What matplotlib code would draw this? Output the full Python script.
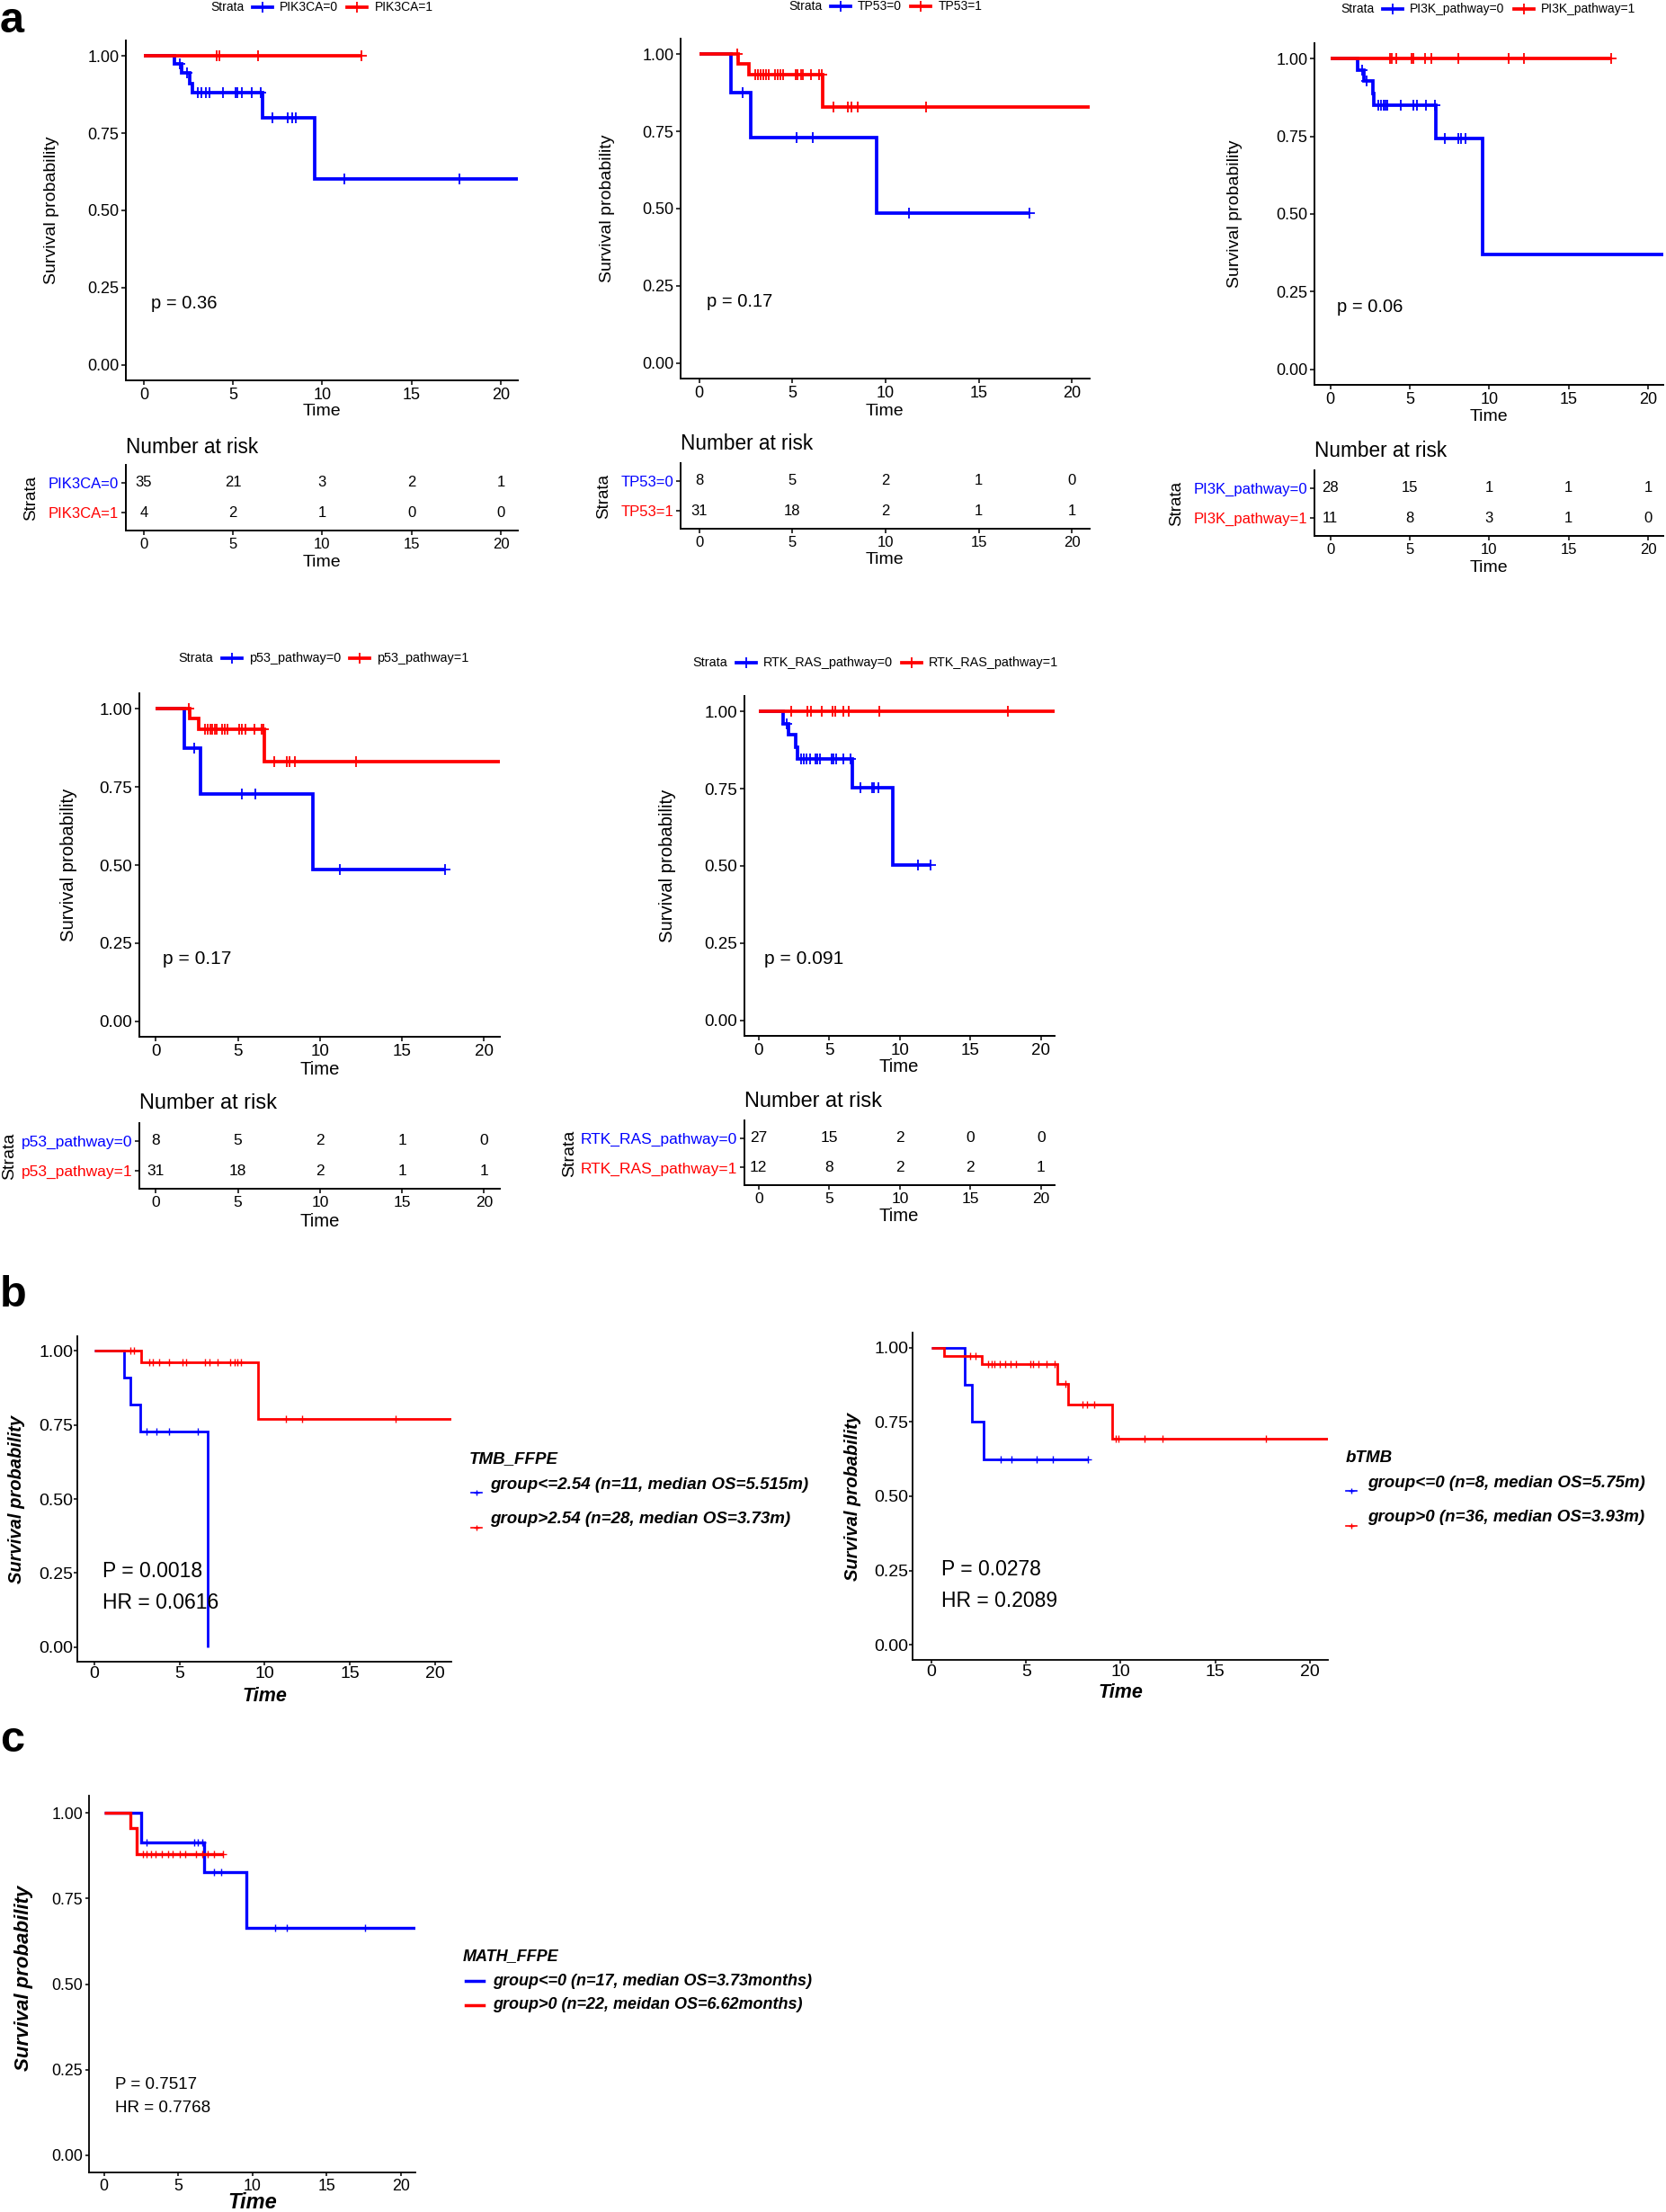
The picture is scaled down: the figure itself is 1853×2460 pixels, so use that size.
import numpy as np
import matplotlib
matplotlib.use("Agg")
import matplotlib.pyplot as plt
from matplotlib.lines import Line2D

plt.rcParams['font.family'] = ['Liberation Sans', 'DejaVu Sans']

W, H, DPI = 1853, 2460, 100
BLUE, RED = '#0000FF', '#FF0000'

# ====================== DATA ======================
x_ticks = [0, 5, 10, 15, 20]
y_ticks = [0.0, 0.25, 0.5, 0.75, 1.0]
y_ticklabels = ['0.00', '0.25', '0.50', '0.75', '1.00']
risk_times = [0, 5, 10, 15, 20]

# --- a1: PIK3CA ---
pik3ca_labels = ['PIK3CA=0', 'PIK3CA=1']
pik3ca_p = 'p = 0.36'
pik3ca0_event_t = [1.70, 2.10, 2.60, 2.75, 6.65, 9.56]
pik3ca0_event_s = [0.974, 0.945, 0.911, 0.881, 0.801, 0.601]
pik3ca0_cens = [2.0, 2.4, 3.04, 3.24, 3.47, 3.66, 4.45, 5.16, 5.26, 5.51, 6.03, 6.58,
                7.23, 8.05, 8.3, 8.54, 11.23, 17.69]
pik3ca0_end = 21.5
pik3ca1_event_t = []
pik3ca1_event_s = []
pik3ca1_cens = [4.1, 4.22, 6.38, 12.2]
pik3ca1_end = 12.2
pik3ca_risk0 = [35, 21, 3, 2, 1]
pik3ca_risk1 = [4, 2, 1, 0, 0]

# --- a2: TP53 ---
tp53_labels = ['TP53=0', 'TP53=1']
tp53_p = 'p = 0.17'
tp530_event_t = [1.72, 2.76, 9.54]
tp530_event_s = [0.875, 0.729, 0.486]
tp530_cens = [2.34, 5.24, 6.08, 11.24, 17.71]
tp530_end = 17.71
tp531_event_t = [2.11, 2.69, 6.63]
tp531_event_s = [0.968, 0.935, 0.830]
tp531_cens = [2.02, 3.0, 3.14, 3.3, 3.45, 3.58, 3.71, 4.06, 4.19, 4.34, 4.48, 5.16, 5.26,
              5.45, 5.54, 6.02, 6.44, 6.6, 7.2, 8.0, 8.15, 8.5, 12.19]
tp531_end = 21.5
tp53_risk0 = [8, 5, 2, 1, 0]
tp53_risk1 = [31, 18, 2, 1, 1]

# --- a3: PI3K_pathway ---
pi3k_labels = ['PI3K_pathway=0', 'PI3K_pathway=1']
pi3k_p = 'p = 0.06'
pi3k0_event_t = [1.69, 2.09, 2.68, 2.75, 6.65, 9.57]
pi3k0_event_s = [0.963, 0.929, 0.888, 0.849, 0.742, 0.371]
pi3k0_cens = [1.98, 2.29, 3.01, 3.17, 3.34, 3.45, 3.61, 4.44, 5.21, 5.43, 6.03, 6.6,
              7.19, 8.03, 8.25, 8.51]
pi3k0_end = 21.5
pi3k1_event_t = []
pi3k1_event_s = []
pi3k1_cens = [3.74, 3.89, 4.16, 5.1, 5.21, 5.98, 6.38, 8.07, 11.2, 12.19, 17.69]
pi3k1_end = 17.69
pi3k_risk0 = [28, 15, 1, 1, 1]
pi3k_risk1 = [11, 8, 3, 1, 0]

# --- a4: p53_pathway ---
p53p_labels = ['p53_pathway=0', 'p53_pathway=1']
p53p_p = 'p = 0.17'
p53p0_event_t = [1.72, 2.72, 9.57]
p53p0_event_s = [0.875, 0.728, 0.486]
p53p0_cens = [2.35, 5.24, 6.07, 11.2, 17.63]
p53p0_end = 17.63
p53p1_event_t = [2.08, 2.62, 6.62]
p53p1_event_s = [0.968, 0.935, 0.830]
p53p1_cens = [1.99, 2.98, 3.14, 3.3, 3.45, 3.58, 3.71, 4.06, 4.19, 4.34, 5.1, 5.26, 5.45,
              6.02, 6.44, 6.58, 7.2, 8.0, 8.15, 8.5, 12.19]
p53p1_end = 21.5
p53p_risk0 = [8, 5, 2, 1, 0]
p53p_risk1 = [31, 18, 2, 1, 1]

# --- a5: RTK_RAS_pathway ---
rtk_labels = ['RTK_RAS_pathway=0', 'RTK_RAS_pathway=1']
rtk_p = 'p = 0.091'
rtk0_event_t = [1.72, 2.09, 2.65, 2.75, 6.65, 9.51]
rtk0_event_s = [0.961, 0.924, 0.885, 0.847, 0.753, 0.502]
rtk0_cens = [1.97, 3.0, 3.18, 3.37, 3.67, 4.05, 4.17, 4.34, 5.15, 5.27, 5.51, 5.97, 6.53,
             7.21, 8.03, 8.16, 8.47, 11.26, 12.16]
rtk0_end = 12.16
rtk1_event_t = []
rtk1_event_s = []
rtk1_cens = [2.33, 3.45, 3.69, 4.47, 5.24, 5.44, 6.0, 6.36, 8.54, 17.65]
rtk1_end = 21.5
rtk_risk0 = [27, 15, 2, 0, 0]
rtk_risk1 = [12, 8, 2, 2, 1]

# --- b1: TMB_FFPE ---
tmb_title = 'TMB_FFPE'
tmb_labels = ['group<=2.54 (n=11, median OS=5.515m)', 'group>2.54 (n=28, median OS=3.73m)']
tmb_stats = ['P = 0.0018', 'HR = 0.0616']
tmb0_event_t = [1.73, 2.10, 2.67, 6.66]
tmb0_event_s = [0.909, 0.818, 0.727, 0.0]
tmb0_cens = [3.05, 3.67, 4.4, 6.1]
tmb0_end = 6.66
tmb1_event_t = [2.73, 9.60]
tmb1_event_s = [0.962, 0.770]
tmb1_cens = [2.1, 2.35, 3.2, 3.42, 3.83, 4.4, 5.18, 5.4, 6.5, 6.75, 7.22, 8.0, 8.23, 8.38,
             8.6, 11.27, 12.2, 17.68]
tmb1_end = 21.5

# --- b2: bTMB ---
btmb_title = 'bTMB'
btmb_labels = ['group<=0 (n=8, median OS=5.75m)', 'group>0 (n=36, median OS=3.93m)']
btmb_stats = ['P = 0.0278', 'HR = 0.2089']
btmb0_event_t = [1.75, 2.12, 2.74]
btmb0_event_s = [0.875, 0.750, 0.625]
btmb0_cens = [3.67, 4.24, 5.56, 6.41, 8.25]
btmb0_end = 8.25
btmb1_event_t = [0.65, 2.66, 6.64, 7.20, 9.55]
btmb1_event_s = [0.972, 0.943, 0.879, 0.807, 0.692]
btmb1_cens = [2.06, 2.34, 2.97, 3.16, 3.33, 3.62, 3.9, 4.18, 4.46, 5.23, 5.37, 5.65, 6.07,
              6.5, 7.06, 8.0, 8.2, 8.6, 9.75, 9.9, 11.24, 12.2, 17.7]
btmb1_end = 21.5

# --- c: MATH_FFPE ---
math_title = 'MATH_FFPE'
math_labels = ['group<=0 (n=17, median OS=3.73months)', 'group>0 (n=22, meidan OS=6.62months)']
math_stats = ['P = 0.7517', 'HR = 0.7768']
math0_event_t = [2.48, 6.76, 9.60]
math0_event_s = [0.914, 0.827, 0.663]
math0_cens = [2.9, 6.1, 6.35, 6.6, 7.4, 7.9, 11.5, 12.3, 17.6]
math0_end = 21.5
math1_event_t = [1.80, 2.20]
math1_event_s = [0.955, 0.880]
math1_cens = [2.6, 2.9, 3.2, 3.5, 3.9, 4.3, 4.6, 5.1, 5.5, 6.2, 6.6, 7.0, 7.4, 8.0]
math1_end = 8.0

# ====================== LAYOUT HELPERS ======================
fig = plt.figure(figsize=(W / DPI, H / DPI), dpi=DPI)
renderer = fig.canvas.get_renderer()


def fx(x):
    return x / W


def fy(y):
    return 1 - y / H


def add_ax(l, t, r, b):
    return fig.add_axes([l / W, 1 - b / H, (r - l) / W, (b - t) / H])


def ftext(x, y, s, **kw):
    return fig.text(fx(x), fy(y), s, **kw)


def km_draw(ax, ev_t, ev_s, cens, end, color, lw, ms, mew):
    ev_t = np.asarray(ev_t, float)
    ev_s = np.asarray(ev_s, float)
    last = ev_s[-1] if len(ev_s) else 1.0
    t = np.r_[0.0, ev_t, end]
    s = np.r_[1.0, ev_s, last]
    ax.step(t, s, where='post', color=color, lw=lw, solid_joinstyle='miter',
            solid_capstyle='butt', zorder=3)
    lev = np.r_[1.0, ev_s][np.searchsorted(ev_t, cens, side='right')]
    ax.plot(cens, lev, ls='none', marker='+', color=color, ms=ms, mew=mew, zorder=4)


def setup_km(ax, tick_fs, spine_lw=1.4, pad=2, tlen=3.5):
    ax.set_xlim(-1, 20.96)
    ax.set_ylim(-0.05, 1.05)
    ax.set_xticks(x_ticks)
    ax.set_yticks(y_ticks)
    ax.set_yticklabels(y_ticklabels)
    for sp in ['top', 'right']:
        ax.spines[sp].set_visible(False)
    for sp in ['left', 'bottom']:
        ax.spines[sp].set_linewidth(spine_lw)
    ax.tick_params(length=tlen, width=1.1, labelsize=tick_fs, pad=pad, colors='black')
    ax.set_facecolor('none')


def hlegend(x0, y, labels, fs, lw, ms, mew):
    """ggplot-like horizontal legend: 'Strata' + keys"""
    t = ftext(x0, y, 'Strata', fontsize=fs, va='center', ha='left')
    bb = t.get_window_extent(renderer)
    x = bb.x1 + 10
    for lab, col in zip(labels, [BLUE, RED]):
        fig.add_artist(Line2D([fx(x), fx(x + 22)], [fy(y), fy(y)], color=col, lw=lw))
        fig.add_artist(Line2D([fx(x + 11)], [fy(y)], color=col, marker='+', ms=ms, mew=mew))
        x += 30
        tt = ftext(x, y, lab, fontsize=fs, va='center', ha='left')
        x = tt.get_window_extent(renderer).x1 + 10


A_LW = 2.7


def a_panel(box, rbox, labels, pval, c0, c1, r0, r1, pos, s=1.0):
    (ylab_xy, time_xy, leg_xy, rt_title_xy, rt_strata_xy, rt_time_xy) = pos
    ax = add_ax(*box)
    setup_km(ax, 13 * s)
    km_draw(ax, *c0, BLUE, A_LW, 8, 1.3)
    km_draw(ax, *c1, RED, A_LW, 8, 1.3)
    ax.text(0.42, 0.2, pval, fontsize=14.5 * s, ha='left', va='center')
    ftext(*ylab_xy, 'Survival probability', fontsize=14 * s, rotation=90,
          ha='center', va='center')
    ftext(*time_xy, 'Time', fontsize=14 * s, ha='center', va='center')
    hlegend(leg_xy[0], leg_xy[1], labels, 10 * s, A_LW, 8, 1.3)

    # risk table
    rt = add_ax(*rbox)
    rt.set_xlim(-1, 20.96)
    rt.set_ylim(0.4, 2.6)
    rt.set_xticks(x_ticks)
    rt.set_yticks([2, 1])
    rt.set_yticklabels(labels)
    for tl, col in zip(rt.get_yticklabels(), [BLUE, RED]):
        tl.set_color(col)
    for sp in ['top', 'right']:
        rt.spines[sp].set_visible(False)
    for sp in ['left', 'bottom']:
        rt.spines[sp].set_linewidth(1.4)
    rt.tick_params(length=3.5, width=1.1, labelsize=12 * s, pad=2)
    rt.set_facecolor('none')
    for tm, n0, n1 in zip(risk_times, r0, r1):
        rt.text(tm, 2, str(n0), ha='center', va='center', fontsize=12 * s)
        rt.text(tm, 1, str(n1), ha='center', va='center', fontsize=12 * s)
    ftext(*rt_title_xy, 'Number at risk', fontsize=16.3 * s, ha='left', va='center')
    ftext(*rt_strata_xy, 'Strata', fontsize=13.5 * s, rotation=90, ha='center', va='center')
    ftext(*rt_time_xy, 'Time', fontsize=14 * s, ha='center', va='center')


BI = dict(fontweight='bold', fontstyle='italic')


def b_panel(box, curves, stats, title, labels, pos, fs):
    (ylab_xy, time_xy, stat_y, leg) = pos
    ax = add_ax(*box)
    setup_km(ax, fs['tick'], spine_lw=1.3, pad=fs['pad'], tlen=3)
    for (c, col) in zip(curves, [BLUE, RED]):
        km_draw(ax, *c, col, fs['lw'], fs['ms'], 1.0)
    ax.text(fs['statx'], stat_y[0], stats[0], fontsize=fs['stat'], ha='left', va='center')
    ax.text(fs['statx'], stat_y[1], stats[1], fontsize=fs['stat'], ha='left', va='center')
    ftext(*ylab_xy, 'Survival probability', fontsize=fs['ylab'], rotation=90,
          ha='center', va='center', **BI)
    ftext(*time_xy, 'Time', fontsize=fs['time'], ha='center', va='center', **BI)
    # legend
    tx, ty, kx0, kx1, txt_x, ys, kys = leg
    ftext(tx, ty, title, fontsize=fs['leg'], ha='left', va='center', **BI)
    for lab, col, yy, ky in zip(labels, [BLUE, RED], ys, kys):
        fig.add_artist(Line2D([fx(kx0), fx(kx1)], [fy(ky), fy(ky)], color=col,
                              lw=fs['klw']))
        if fs['kmark']:
            fig.add_artist(Line2D([fx((kx0 + kx1) / 2)], [fy(ky)], color=col, marker='+',
                                  ms=5, mew=1.0))
        ftext(txt_x, yy, lab, fontsize=fs['leg'], ha='left', va='center', **BI)


# ====================== PANEL a ======================
ftext(0, 1, 'a', fontsize=35, fontweight='bold', ha='left', va='top')

a_panel((140, 45, 576, 423), (140, 517, 576, 590), pik3ca_labels, pik3ca_p,
        (pik3ca0_event_t, pik3ca0_event_s, pik3ca0_cens, pik3ca0_end),
        (pik3ca1_event_t, pik3ca1_event_s, pik3ca1_cens, pik3ca1_end),
        pik3ca_risk0, pik3ca_risk1,
        ((58, 234), (358, 458), (234, 8), (140, 497), (35, 554), (358, 625)))

a_panel((757, 43, 1212, 421), (757, 515, 1212, 588), tp53_labels, tp53_p,
        (tp530_event_t, tp530_event_s, tp530_cens, tp530_end),
        (tp531_event_t, tp531_event_s, tp531_cens, tp531_end),
        tp53_risk0, tp53_risk1,
        ((675, 232), (984, 457), (877, 7), (757, 493), (672, 552), (984, 623)))

a_panel((1462, 48, 1850, 428), (1462, 523, 1850, 596), pi3k_labels, pi3k_p,
        (pi3k0_event_t, pi3k0_event_s, pi3k0_cens, pi3k0_end),
        (pi3k1_event_t, pi3k1_event_s, pi3k1_cens, pi3k1_end),
        pi3k_risk0, pi3k_risk1,
        ((1374, 238), (1656, 463), (1491, 10), (1462, 502), (1309, 560), (1656, 632)))

a_panel((155, 771, 556, 1153), (155, 1249, 556, 1322), p53p_labels, p53p_p,
        (p53p0_event_t, p53p0_event_s, p53p0_cens, p53p0_end),
        (p53p1_event_t, p53p1_event_s, p53p1_cens, p53p1_end),
        p53p_risk0, p53p_risk1,
        ((77, 962), (356, 1189), (198, 732), (155, 1227), (11, 1286), (356, 1358)), s=1.04)

a_panel((828, 774, 1173, 1152), (828, 1246, 1173, 1318), rtk_labels, rtk_p,
        (rtk0_event_t, rtk0_event_s, rtk0_cens, rtk0_end),
        (rtk1_event_t, rtk1_event_s, rtk1_cens, rtk1_end),
        rtk_risk0, rtk_risk1,
        ((742, 963), (1000, 1186), (770, 737), (828, 1225), (634, 1283), (1000, 1353)), s=1.04)

# ====================== PANEL b ======================
ftext(0, 1453, 'b', fontsize=35, fontweight='bold', ha='left', va='baseline')
fs_b = dict(tick=14, ylab=14.5, time=15.5, stat=16.5, leg=13.5, lw=2.0, ms=6,
            statx=0.5, klw=1.2, kmark=True, pad=0.5)
b_panel((86, 1486, 502, 1848),
        [(tmb0_event_t, tmb0_event_s, tmb0_cens, tmb0_end),
         (tmb1_event_t, tmb1_event_s, tmb1_cens, tmb1_end)],
        tmb_stats, tmb_title, tmb_labels,
        ((19, 1667), (294, 1886), (0.255, 0.15),
         (522, 1623, 524, 536, 545, (1652, 1690), (1660, 1699))), fs_b)
b_panel((1015, 1482, 1477, 1846),
        [(btmb0_event_t, btmb0_event_s, btmb0_cens, btmb0_end),
         (btmb1_event_t, btmb1_event_s, btmb1_cens, btmb1_end)],
        btmb_stats, btmb_title, btmb_labels,
        ((948, 1664), (1246, 1883), (0.254, 0.148),
         (1497, 1621, 1497, 1509, 1521, (1650, 1688), (1658, 1697))), fs_b)

# ====================== PANEL c ======================
ftext(0, 1948, 'c', fontsize=35, fontweight='bold', ha='left', va='baseline')
fs_c = dict(tick=12.8, ylab=16, time=17, stat=13.5, leg=13, lw=2.4, ms=6,
            statx=0.77, klw=2.5, kmark=False, pad=2)
b_panel((99, 1997, 462, 2416),
        [(math0_event_t, math0_event_s, math0_cens, math0_end),
         (math1_event_t, math1_event_s, math1_cens, math1_end)],
        math_stats, math_title, math_labels,
        ((27, 2200), (281, 2449), (0.205, 0.139),
         (515, 2176, 518, 538, 548, (2203, 2230), (2203, 2230))), fs_c)

fig.savefig('out.png', dpi=DPI, facecolor='white')
